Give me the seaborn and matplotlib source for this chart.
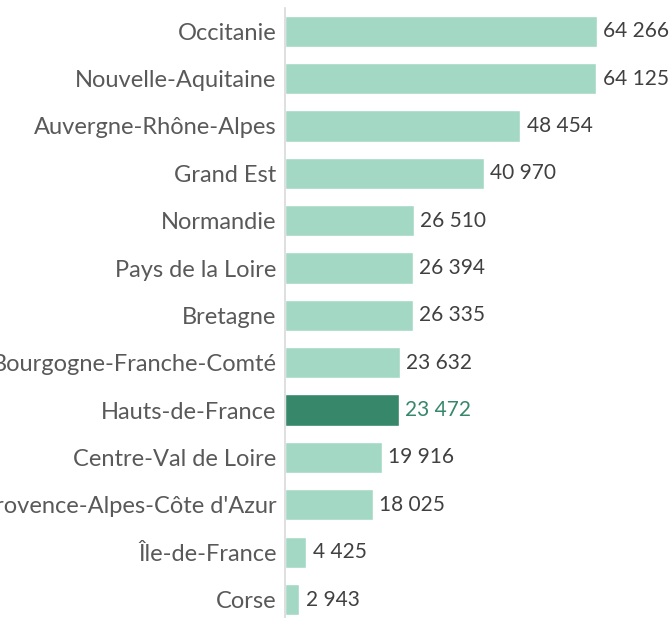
import matplotlib
matplotlib.use("Agg")
import matplotlib.pyplot as plt
import seaborn as sns
import pandas as pd

# ===== Données =====
regions = [
    "Occitanie", "Nouvelle-Aquitaine", "Auvergne-Rhône-Alpes", "Grand Est",
    "Normandie", "Pays de la Loire", "Bretagne", "Bourgogne-Franche-Comté",
    "Hauts-de-France", "Centre-Val de Loire", "Provence-Alpes-Côte d'Azur",
    "Île-de-France", "Corse",
]
valeurs = [64266, 64125, 48454, 40970, 26510, 26394, 26335, 23632,
           23472, 19916, 18025, 4425, 2943]
highlight = "Hauts-de-France"

light = "#a3d9c4"
dark = "#37876a"

df = pd.DataFrame({"region": regions, "valeur": valeurs})
df["groupe"] = ["hl" if r == highlight else "autre" for r in df["region"]]

sns.set_style("white")
plt.rcParams["font.family"] = ["Lato", "DejaVu Sans"]

fig = plt.figure(figsize=(6.72, 6.18), dpi=100)
ax = fig.add_axes([285 / 672, 0.0, 1 - 285 / 672, 610 / 618])

sns.barplot(
    data=df, y="region", x="valeur", hue="groupe",
    palette={"autre": light, "hl": dark},
    orient="h", width=0.66, dodge=False, legend=False,
    saturation=1, ax=ax,
)

ax.set_xlim(0, 79700)
ax.set_ylim(12.39, -0.49)

# étiquettes de valeurs
for i, (r, v) in enumerate(zip(regions, valeurs)):
    label = f"{v:,}".replace(",", " ")
    col = dark if r == highlight else "#404040"
    ax.text(v + 1300, i, label, va="center", ha="left", fontsize=15,
            color=col, clip_on=False)

ax.set_xlabel("")
ax.set_ylabel("")
ax.set_xticks([])
ax.tick_params(axis="y", length=0, pad=6, labelsize=17, labelcolor="#595959")

for s in ["top", "right", "bottom"]:
    ax.spines[s].set_visible(False)
ax.spines["left"].set_color("#d9d9d9")
ax.spines["left"].set_linewidth(1.2)

plt.savefig("out.png", dpi=100)
plt.close()
